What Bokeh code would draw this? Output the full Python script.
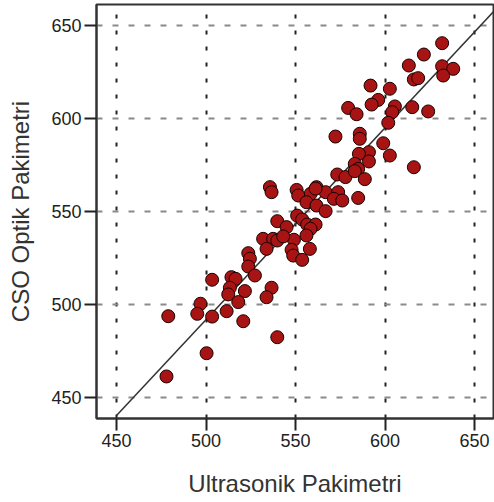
from bokeh.plotting import figure
from bokeh.models import FixedTicker, Range1d
from bokeh.embed import file_html
from bokeh.resources import INLINE

# Ultrasonik Pakimetri (x) vs CSO Optik Pakimetri (y)
ultrasonik = [631.9, 621.7, 613.3, 631.9, 638.1, 632.5, 616.1, 618.5, 591.9, 602.7,
              596.2, 592.5, 579.4, 584.1, 605.5, 604.0, 615.2, 624.1, 601.8, 572.3,
              585.9, 585.9, 599.0, 602.7, 591.0, 585.4, 591.0, 583.1, 616.1, 585.0,
              573.3, 577.9, 588.7, 583.1, 535.7, 536.6, 550.6, 561.7, 558.4, 566.8,
              573.8, 571.4, 576.1, 551.5, 556.1, 561.7, 566.8, 585.0, 561.2, 550.9,
              553.7, 539.8, 545.0, 556.5, 561.2, 558.4, 556.1, 549.1, 531.9, 537.5,
              539.8, 543.1, 533.8, 547.8, 558.0, 548.7, 553.7, 523.6, 524.5, 523.6,
              527.3, 514.2, 516.5, 503.4, 513.3, 521.7, 512.4, 536.6, 533.8, 518.0,
              496.9, 495.1, 503.4, 511.5, 520.8, 478.9, 539.8, 500.3, 477.9]
cso_optik = [640.5, 634.4, 628.5, 628.1, 626.7, 623.1, 621.0, 621.7, 617.7, 616.0,
             610.0, 607.5, 605.7, 602.3, 606.5, 603.4, 606.1, 603.8, 597.7, 590.3,
             591.8, 589.1, 586.7, 580.1, 581.9, 581.0, 576.9, 575.6, 573.8, 572.9,
             569.9, 568.5, 567.4, 571.7, 563.1, 560.4, 561.6, 563.1, 559.5, 560.4,
             560.4, 556.8, 555.9, 558.6, 555.0, 553.2, 550.2, 557.3, 562.3, 547.8,
             545.7, 544.8, 541.6, 543.0, 543.0, 540.7, 537.1, 534.8, 535.3, 535.3,
             534.4, 536.6, 529.9, 529.4, 529.9, 526.3, 524.0, 527.6, 524.6, 520.4,
             515.6, 514.7, 513.8, 513.3, 509.0, 507.2, 505.4, 509.0, 503.9, 501.3,
             500.4, 495.0, 493.5, 496.4, 491.0, 493.7, 482.4, 473.8, 461.3]

# fit line
fit_intercept_at_450 = 440.3
fit_slope = 1.031
line_x = [450, 665]
line_y = [fit_intercept_at_450 + fit_slope * (x - 450) for x in line_x]

ticks = [450, 500, 550, 600, 650]

p = figure(width=494, height=502, output_backend="svg", toolbar_location=None,
           x_range=Range1d(438.8, 660.6), y_range=Range1d(438.7, 661.3),
           min_border_left=96, min_border_right=1, min_border_top=4, min_border_bottom=84)

p.background_fill_color = "white"
p.border_fill_color = "white"
p.outline_line_color = "#333333"
p.outline_line_width = 2

for ax in (p.xaxis[0], p.yaxis[0]):
    ax.ticker = FixedTicker(ticks=ticks)
    ax.minor_tick_line_color = None
    ax.major_tick_in = 0
    ax.major_tick_out = 12
    ax.major_tick_line_width = 2
    ax.major_tick_line_color = "#222222"
    ax.axis_line_color = "#333333"
    ax.axis_line_width = 2
    ax.major_label_text_font = "Liberation Sans"
    ax.major_label_text_font_size = "18px"
    ax.major_label_text_color = "#222222"
    ax.axis_label_text_font = "Liberation Sans"
    ax.axis_label_text_font_size = "24px"
    ax.axis_label_text_font_style = "normal"
    ax.axis_label_text_color = "#333333"
    ax.major_label_standoff = 3

p.xaxis.axis_label = "Ultrasonik Pakimetri"
p.yaxis.axis_label = "CSO Optik Pakimetri"
p.xaxis.axis_label_standoff = 20
p.yaxis.axis_label_standoff = 14

p.xgrid.ticker = FixedTicker(ticks=ticks)
p.ygrid.ticker = FixedTicker(ticks=ticks)
p.xgrid.grid_line_color = "#222222"
p.xgrid.grid_line_width = 2
p.xgrid.grid_line_dash = "4 12"
p.ygrid.grid_line_color = "#8a8a8a"
p.ygrid.grid_line_width = 2
p.ygrid.grid_line_dash = "6 10"

p.line(line_x, line_y, line_color="#333333", line_width=1.5)
p.scatter(ultrasonik, cso_optik, size=13, fill_color="#a81414",
          line_color="#1a0000", line_width=1)

open("out.html", "w").write(file_html(p, INLINE))
